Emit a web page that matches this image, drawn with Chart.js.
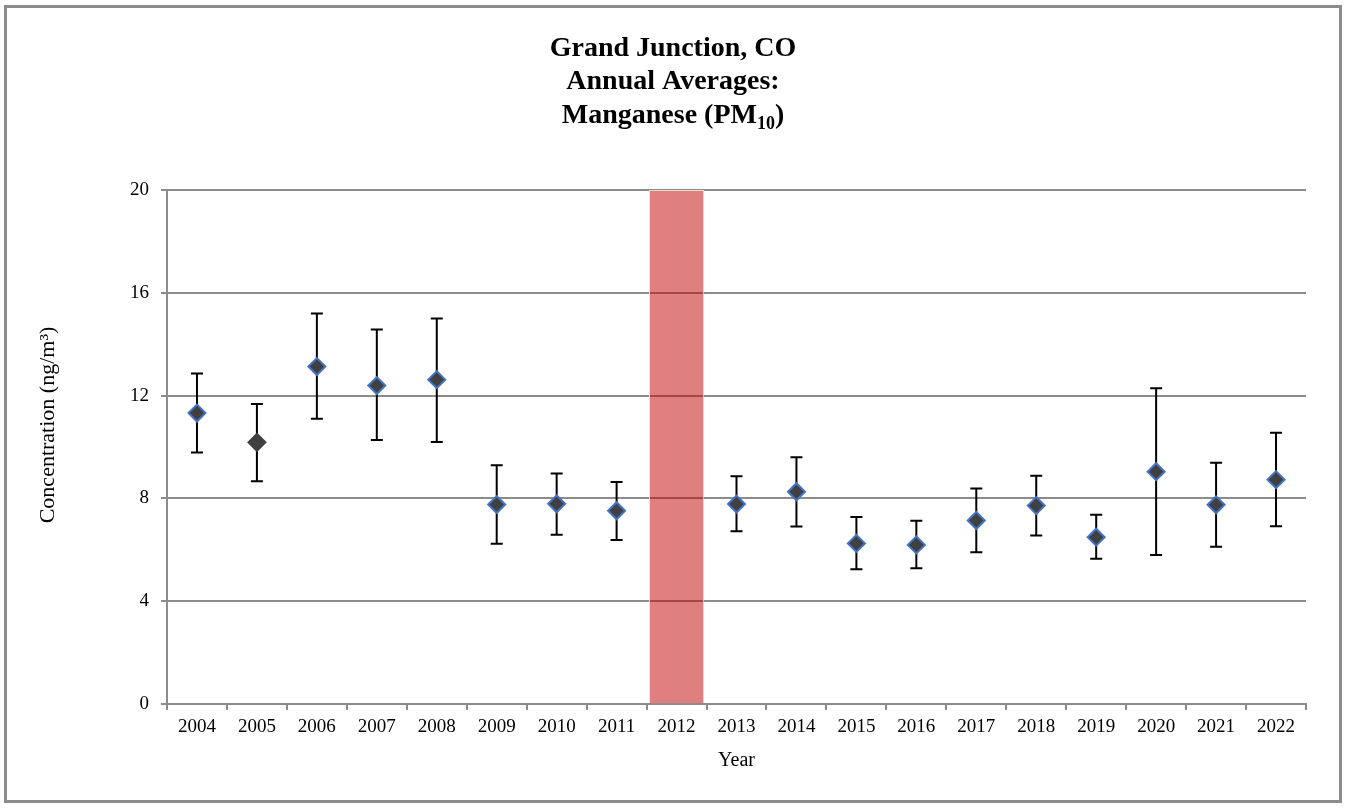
<!DOCTYPE html>
<html>
<head>
<meta charset="utf-8">
<script src="https://cdn.jsdelivr.net/npm/chart.js@4.4.0/dist/chart.umd.min.js"></script>
<style>
  html, body { margin: 0; padding: 0; background: #fff; }
</style>
</head>
<body>
<canvas id="mnChart" width="1346" height="808"></canvas>
<script>
const years = ['2004', '2005', '2006', '2007', '2008', '2009', '2010', '2011', '2012', '2013',
  '2014', '2015', '2016', '2017', '2018', '2019', '2020', '2021', '2022'];
const annual_avg = [11.32, 10.18, 13.13, 12.39, 12.62, 7.76, 7.79, 7.52, null, 7.78,
  8.26, 6.25, 6.19, 7.14, 7.72, 6.49, 9.04, 7.75, 8.73];
const ci_upper = [12.86, 11.67, 15.19, 14.57, 15.0, 9.29, 8.97, 8.64, null, 8.86,
  9.60, 7.28, 7.13, 8.39, 8.88, 7.36, 12.29, 9.39, 10.55];
const ci_lower = [9.79, 8.67, 11.10, 10.27, 10.19, 6.24, 6.59, 6.38, null, 6.72,
  6.91, 5.24, 5.28, 5.90, 6.56, 5.65, 5.80, 6.12, 6.92];
// 2012 has no data, shaded across the whole axis
const missing_year = [null, null, null, null, null, null, null, null, 20, null,
  null, null, null, null, null, null, null, null, null];
const y_ticks = [0, 4, 8, 12, 16, 20];
const title_lines = ['Grand Junction, CO', 'Annual Averages:'];
const pollutant = ['Manganese (PM', '10', ')'];
const y_title = 'Concentration (ng/m³)';

const SERIF = '"Liberation Serif", "Times New Roman", Times, serif';
const GRID = '#8c8c8c';
const edge_colors = years.map(y => y === '2005' ? '#404040' : '#4472c4');

const errorBars = {
  id: 'errorBars',
  beforeDatasetsDraw(chart) {
    const ctx = chart.ctx;
    const x = chart.scales.x, y = chart.scales.y;
    ctx.save();
    ctx.strokeStyle = '#000';
    ctx.lineWidth = 2;
    years.forEach((yr, i) => {
      if (ci_upper[i] == null) return;
      const px = x.getPixelForValue(i);
      const top = y.getPixelForValue(ci_upper[i]);
      const bot = y.getPixelForValue(ci_lower[i]);
      ctx.beginPath();
      ctx.moveTo(px, top); ctx.lineTo(px, bot);
      ctx.moveTo(px - 6, top); ctx.lineTo(px + 6, top);
      ctx.moveTo(px - 6, bot); ctx.lineTo(px + 6, bot);
      ctx.stroke();
    });
    ctx.restore();
  }
};

const frameAndTitle = {
  id: 'frameAndTitle',
  beforeDraw(chart) {
    const ctx = chart.ctx;
    ctx.save();
    ctx.fillStyle = '#fff';
    ctx.fillRect(0, 0, chart.width, chart.height);
    ctx.strokeStyle = '#8c8c8c';
    ctx.lineWidth = 3;
    ctx.strokeRect(5.5, 6.5, 1335, 795);
    ctx.restore();
  },
  afterDraw(chart) {
    const ctx = chart.ctx;
    const cx = chart.width / 2;
    ctx.save();
    ctx.fillStyle = '#000';
    ctx.textBaseline = 'alphabetic';
    ctx.textAlign = 'center';
    ctx.font = 'bold 28px ' + SERIF;
    ctx.fillText(title_lines[0], cx, 56);
    ctx.fillText(title_lines[1], cx, 89);
    // third line with subscript
    const big = 'bold 28px ' + SERIF, small = 'bold 18px ' + SERIF;
    ctx.font = big;
    const w1 = ctx.measureText(pollutant[0]).width;
    const w3 = ctx.measureText(pollutant[2]).width;
    ctx.font = small;
    const w2 = ctx.measureText(pollutant[1]).width;
    let sx = cx - (w1 + w2 + w3) / 2;
    ctx.textAlign = 'left';
    ctx.font = big;
    ctx.fillText(pollutant[0], sx, 123);
    sx += w1;
    ctx.font = small;
    ctx.fillText(pollutant[1], sx, 129);
    sx += w2;
    ctx.font = big;
    ctx.fillText(pollutant[2], sx, 123);

    // y axis title, rotated
    ctx.translate(48, 425);
    ctx.rotate(-Math.PI / 2);
    ctx.textAlign = 'center';
    ctx.textBaseline = 'middle';
    ctx.font = '22px ' + SERIF;
    ctx.fillText(y_title, 0, 0);
    ctx.restore();
  }
};

new Chart(document.getElementById('mnChart'), {
  type: 'bar',
  data: {
    labels: years,
    datasets: [
      {
        type: 'line',
        label: 'Annual average',
        data: annual_avg,
        showLine: false,
        pointStyle: 'rectRot',
        pointRadius: 8.5,
        pointBackgroundColor: '#404040',
        pointBorderColor: edge_colors,
        pointBorderWidth: 2
      },
      {
        label: 'No data',
        data: missing_year,
        backgroundColor: 'rgba(192, 0, 0, 0.5)',
        borderColor: 'rgba(245, 225, 205, 0.9)',
        borderWidth: 1,
        barPercentage: 0.92,
        categoryPercentage: 1
      }
    ]
  },
  options: {
    responsive: false,
    animation: false,
    devicePixelRatio: 1,
    layout: { padding: { left: 30, right: 40, top: 190, bottom: 24 } },
    plugins: {
      legend: { display: false },
      tooltip: { enabled: false }
    },
    scales: {
      x: {
        offset: true,
        grid: { offset: true, drawOnChartArea: false, tickLength: 6, color: GRID, lineWidth: 2 },
        border: { color: GRID, width: 2 },
        ticks: { color: '#000', font: { family: SERIF, size: 19 }, padding: 6, maxRotation: 0, autoSkip: false },
        title: { display: true, text: 'Year', color: '#000', font: { family: SERIF, size: 20 }, padding: { top: 11, bottom: 11 } },
        afterFit(s) { s.height = 80; }
      },
      y: {
        min: 0,
        max: 20,
        afterBuildTicks(s) { s.ticks = y_ticks.map(v => ({ value: v })); },
        grid: { color: GRID, lineWidth: 2, tickLength: 6 },
        border: { color: GRID, width: 2 },
        ticks: { color: '#000', font: { family: SERIF, size: 19 }, padding: 12 },
        title: { display: false },
        afterFit(s) { s.width = 137; }
      }
    }
  },
  plugins: [frameAndTitle, errorBars]
});
</script>
</body>
</html>
